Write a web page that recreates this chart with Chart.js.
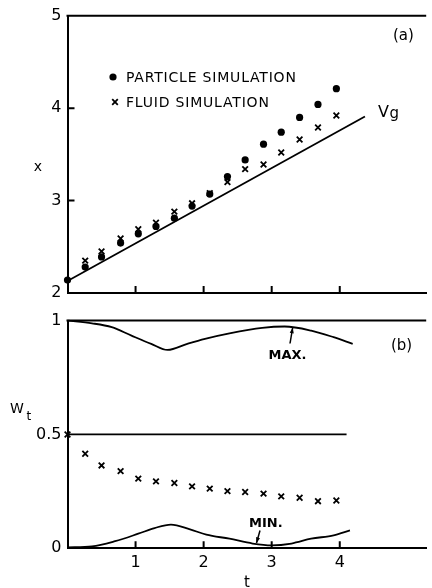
<!DOCTYPE html>
<html>
<head>
<meta charset="utf-8">
<script src="https://cdn.jsdelivr.net/npm/chart.js@4.4.1/dist/chart.umd.min.js"></script>
<style>
  html, body { margin: 0; padding: 0; background: #fff; overflow: hidden; }
  body { width: 432px; height: 588px; position: relative; }
  .panel { position: absolute; left: 0; width: 432px; }
  #topPanel { top: 0; height: 310px; }
  #bottomPanel { top: 305px; height: 295px; }
</style>
</head>
<body>
<div class="panel" id="topPanel"><canvas id="chartA"></canvas></div>
<div class="panel" id="bottomPanel"><canvas id="chartB"></canvas></div>
<script>
// sample times of the simulation output
const times = [0, 0.26, 0.5, 0.78, 1.04, 1.3, 1.57, 1.83, 2.09, 2.35, 2.61, 2.88, 3.14, 3.41, 3.68, 3.95];

// (a) packet position
const particleX = [2.14, 2.28, 2.39, 2.54, 2.64, 2.72, 2.81, 2.94, 3.07, 3.26, 3.44, 3.61, 3.74, 3.90, 4.04, 4.21];
const fluidX = [null, 2.35, 2.45, 2.59, 2.69, 2.76, 2.88, 2.97, 3.08, 3.20, 3.34, 3.39, 3.52, 3.66, 3.79, 3.92];
const vgT = [0, 4.37];
const vgX = [2.13, 3.91];

// (b) W_t
const fluidW = [0.50, 0.415, 0.364, 0.339, 0.306, 0.294, 0.287, 0.272, 0.262, 0.251, 0.247, 0.240, 0.228, 0.222, 0.207, 0.210];
const maxT = [0, 0.36, 0.65, 0.94, 1.23, 1.47, 1.76, 2.02, 2.38, 2.86, 3.19, 3.58, 3.91, 4.19];
const maxW = [1.0, 0.988, 0.971, 0.934, 0.898, 0.871, 0.898, 0.92, 0.944, 0.968, 0.974, 0.956, 0.927, 0.898];
const minT = [0, 0.36, 0.7, 1.04, 1.28, 1.52, 1.80, 2.04, 2.38, 2.72, 3.0, 3.29, 3.58, 3.91, 4.15];
const minW = [0.004, 0.008, 0.031, 0.064, 0.089, 0.104, 0.083, 0.06, 0.042, 0.021, 0.013, 0.021, 0.042, 0.057, 0.079];
const halfT = [0, 4.1];
const halfW = [0.5, 0.5];

// axis ticks
const tTicks = [1, 2, 3, 4];
const xTicks = [2, 3, 4, 5];
const wTicks = [0, 0.5, 1];
const wTickLabels = ['0', '0.5', '1'];

const FONT = "'DejaVu Sans', sans-serif";
const T_MAX = 5.27;

function pts(xs, ys) {
  return xs.map((x, i) => ({ x: x, y: ys[i] })).filter(p => p.y !== null);
}

function text(ctx, str, x, y, size, opts = {}) {
  ctx.save();
  ctx.font = (opts.bold ? 'bold ' : '') + size + 'px ' + FONT;
  ctx.fillStyle = '#000';
  ctx.textAlign = opts.align || 'left';
  ctx.textBaseline = opts.baseline || 'alphabetic';
  if (opts.spacing) ctx.letterSpacing = opts.spacing;
  ctx.fillText(str, x, y);
  ctx.restore();
}

function arrow(ctx, x1, y1, x2, y2) {
  ctx.save();
  ctx.strokeStyle = '#000';
  ctx.fillStyle = '#000';
  ctx.lineWidth = 1.5;
  ctx.beginPath();
  ctx.moveTo(x1, y1);
  ctx.lineTo(x2, y2);
  ctx.stroke();
  const a = Math.atan2(y2 - y1, x2 - x1);
  ctx.beginPath();
  ctx.moveTo(x2, y2);
  ctx.lineTo(x2 - 6 * Math.cos(a - 0.35), y2 - 6 * Math.sin(a - 0.35));
  ctx.lineTo(x2 - 6 * Math.cos(a + 0.35), y2 - 6 * Math.sin(a + 0.35));
  ctx.closePath();
  ctx.fill();
  ctx.restore();
}

// top border plus inward tick marks
function framePlugin(xMarks, yMarks) {
  return {
    id: 'frame',
    afterDraw(chart) {
      const { ctx, chartArea: a, scales } = chart;
      ctx.save();
      ctx.strokeStyle = '#000';
      ctx.lineWidth = 2;
      ctx.beginPath();
      ctx.moveTo(a.left - 1, a.top);
      ctx.lineTo(a.right, a.top);
      xMarks.forEach(v => {
        const px = scales.x.getPixelForValue(v);
        ctx.moveTo(px, a.bottom);
        ctx.lineTo(px, a.bottom - 7);
      });
      yMarks.forEach(v => {
        const py = scales.y.getPixelForValue(v);
        ctx.moveTo(a.left, py);
        ctx.lineTo(a.left + 7, py);
      });
      ctx.stroke();
      ctx.restore();
    }
  };
}

function xScale(showLabels) {
  return {
    type: 'linear',
    min: 0,
    max: T_MAX,
    afterBuildTicks: s => { s.ticks = tTicks.map(v => ({ value: v })); },
    ticks: {
      display: showLabels,
      color: '#000',
      padding: 5,
      font: { family: FONT, size: 16 }
    },
    grid: { display: false, drawTicks: false },
    border: { display: true, color: '#000', width: 2 }
  };
}

// (a)
new Chart(document.getElementById('chartA'), {
  type: 'scatter',
  data: {
    datasets: [
      {
        label: 'Vg',
        data: pts(vgT, vgX),
        showLine: true,
        borderColor: '#000',
        borderWidth: 1.8,
        pointRadius: 0,
        clip: false
      },
      {
        label: 'PARTICLE SIMULATION',
        data: pts(times, particleX),
        pointStyle: 'circle',
        pointRadius: 3.6,
        backgroundColor: '#000',
        borderColor: '#000',
        borderWidth: 0,
        clip: false
      },
      {
        label: 'FLUID SIMULATION',
        data: pts(times, fluidX),
        pointStyle: 'crossRot',
        pointRadius: 4,
        borderColor: '#000',
        borderWidth: 1.8,
        clip: false
      }
    ]
  },
  options: {
    responsive: true,
    maintainAspectRatio: false,
    animation: false,
    devicePixelRatio: 1,
    layout: { padding: { top: 15.7, left: 0, right: 0, bottom: 0 } },
    plugins: { legend: { display: false }, tooltip: { enabled: false } },
    scales: {
      x: Object.assign(xScale(false), { afterFit: s => { s.height = 17; } }),
      y: {
        type: 'linear',
        min: 2,
        max: 5,
        afterBuildTicks: s => { s.ticks = xTicks.map(v => ({ value: v })); },
        afterFit: s => { s.width = 67.5; },
        ticks: { color: '#000', padding: 6, font: { family: FONT, size: 16 } },
        grid: { display: false, drawTicks: false },
        border: { display: true, color: '#000', width: 2 }
      }
    }
  },
  plugins: [
    framePlugin(tTicks, [3, 4]),
    {
      id: 'labelsA',
      afterDraw(chart) {
        const ctx = chart.ctx;
        text(ctx, 'x', 38, 167, 14, { align: 'center', baseline: 'middle' });
        text(ctx, '(a)', 393, 40, 15);
        text(ctx, 'V', 378, 116.7, 16);
        text(ctx, 'g', 389.5, 117.5, 15);
        // legend
        ctx.save();
        ctx.fillStyle = '#000';
        ctx.beginPath();
        ctx.arc(113, 77, 3.6, 0, Math.PI * 2);
        ctx.fill();
        ctx.strokeStyle = '#000';
        ctx.lineWidth = 1.8;
        ctx.beginPath();
        ctx.moveTo(112.2, 99.2); ctx.lineTo(117.8, 104.8);
        ctx.moveTo(117.8, 99.2); ctx.lineTo(112.2, 104.8);
        ctx.stroke();
        ctx.restore();
        text(ctx, 'PARTICLE SIMULATION', 126, 82, 14, { spacing: '0.8px' });
        text(ctx, 'FLUID SIMULATION', 126, 107, 14, { spacing: '0.8px' });
      }
    }
  ]
});

// (b)
new Chart(document.getElementById('chartB'), {
  type: 'scatter',
  data: {
    datasets: [
      {
        label: 'MAX.',
        data: pts(maxT, maxW),
        showLine: true,
        cubicInterpolationMode: 'monotone',
        borderColor: '#000',
        borderWidth: 1.8,
        pointRadius: 0,
        clip: false
      },
      {
        label: '0.5',
        data: pts(halfT, halfW),
        showLine: true,
        borderColor: '#000',
        borderWidth: 1.8,
        pointRadius: 0,
        clip: false
      },
      {
        label: 'MIN.',
        data: pts(minT, minW),
        showLine: true,
        cubicInterpolationMode: 'monotone',
        borderColor: '#000',
        borderWidth: 1.8,
        pointRadius: 0,
        clip: false
      },
      {
        label: 'FLUID SIMULATION',
        data: pts(times, fluidW),
        pointStyle: 'crossRot',
        pointRadius: 4,
        borderColor: '#000',
        borderWidth: 1.8,
        clip: false
      }
    ]
  },
  options: {
    responsive: true,
    maintainAspectRatio: false,
    animation: false,
    devicePixelRatio: 1,
    layout: { padding: { top: 15, left: 0, right: 0, bottom: 0 } },
    plugins: { legend: { display: false }, tooltip: { enabled: false } },
    scales: {
      x: Object.assign(xScale(true), {
        afterFit: s => { s.height = 51.7; },
        title: {
          display: true,
          text: 't',
          color: '#000',
          font: { family: FONT, size: 15 },
          padding: { top: 0, bottom: 8 }
        }
      }),
      y: {
        type: 'linear',
        min: 0,
        max: 1,
        afterBuildTicks: s => { s.ticks = wTicks.map(v => ({ value: v })); },
        afterFit: s => { s.width = 67.5; },
        ticks: {
          color: '#000',
          padding: 6,
          font: { family: FONT, size: 16 },
          callback: (v) => wTickLabels[wTicks.indexOf(v)]
        },
        grid: { display: false, drawTicks: false },
        border: { display: true, color: '#000', width: 2 }
      }
    }
  },
  plugins: [
    framePlugin(tTicks, []),
    {
      id: 'labelsB',
      afterDraw(chart) {
        const ctx = chart.ctx;
        text(ctx, 'W', 10, 108.3, 14);
        text(ctx, 't', 26.5, 115, 12);
        text(ctx, '(b)', 391, 45, 15);
        text(ctx, 'MAX.', 268.5, 53.5, 13, { bold: true });
        arrow(ctx, 290, 38.5, 292.7, 22.5);
        text(ctx, 'MIN.', 249, 222.3, 13, { bold: true });
        arrow(ctx, 260, 225.5, 256.5, 238);
      }
    }
  ]
});
</script>
</body>
</html>
